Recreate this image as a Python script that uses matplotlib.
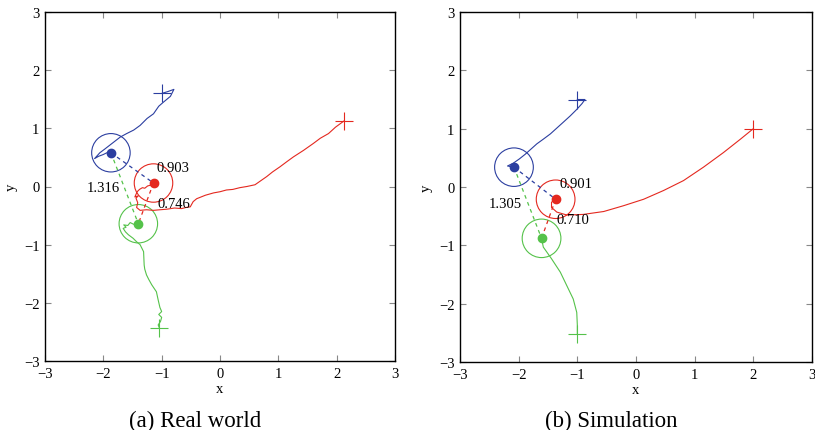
import numpy as np
import matplotlib
matplotlib.use("Agg")
import matplotlib.pyplot as plt
from matplotlib.patches import Circle

plt.rcParams['font.family'] = ['Liberation Serif', 'DejaVu Serif']

BLUE = '#2b3ea0'
RED = '#e4281f'
GREEN = '#55c24a'

# --- (a) real world trajectories (x, y) ---
real_blue_x = [-1.00, -0.90, -0.79, -0.85, -0.97, -1.05, -1.14, -1.25, -1.37, -1.48, -1.60, -1.71, -1.80, -1.89, -1.98, -2.06, -2.15, -2.08, -2.00, -1.94, -1.90, -1.87]
real_blue_y = [1.60, 1.63, 1.67, 1.55, 1.45, 1.38, 1.25, 1.17, 1.05, 0.97, 0.91, 0.85, 0.78, 0.71, 0.64, 0.58, 0.48, 0.52, 0.55, 0.58, 0.56, 0.58]
real_red_x = [2.13, 1.98, 1.86, 1.72, 1.60, 1.43, 1.26, 1.15, 1.03, 0.90, 0.80, 0.70, 0.60, 0.46, 0.34, 0.22, 0.11, 0.00, -0.11, -0.25, -0.40, -0.46, -0.51, -0.58, -0.66, -0.78, -0.91, -1.03, -1.14, -1.26, -1.37, -1.43, -1.41, -1.44, -1.40, -1.46, -1.42, -1.38, -1.33, -1.29, -1.24, -1.20, -1.14]
real_red_y = [1.13, 1.02, 0.91, 0.83, 0.74, 0.62, 0.51, 0.43, 0.34, 0.25, 0.17, 0.10, 0.03, 0.00, -0.02, -0.05, -0.06, -0.09, -0.11, -0.15, -0.21, -0.26, -0.35, -0.36, -0.38, -0.37, -0.39, -0.40, -0.41, -0.40, -0.41, -0.36, -0.28, -0.20, -0.16, -0.18, -0.09, -0.05, -0.02, -0.03, 0.01, 0.02, 0.06]
real_green_x = [-1.04, -1.06, -1.02, -1.00, -1.05, -1.00, -1.03, -1.06, -1.09, -1.13, -1.17, -1.22, -1.26, -1.29, -1.30, -1.31, -1.37, -1.43, -1.49, -1.57, -1.62, -1.66, -1.61, -1.65, -1.58, -1.54, -1.48, -1.40]
real_green_y = [-2.43, -2.38, -2.32, -2.25, -2.20, -2.15, -2.08, -1.95, -1.81, -1.75, -1.69, -1.60, -1.52, -1.42, -1.35, -1.12, -1.00, -0.95, -0.89, -0.83, -0.78, -0.72, -0.70, -0.66, -0.67, -0.62, -0.65, -0.64]
real_dots_x = [-1.87, -1.14, -1.40]
real_dots_y = [0.58, 0.06, -0.64]
real_dist = ['0.903', '1.316', '0.746']
real_dist_xy = [(-0.80, 0.32), (-2.00, -0.02), (-0.79, -0.29)]

# --- (b) simulation trajectories ---
sim_blue_x = [-1.00, -0.87, -0.92, -1.01, -1.12, -1.24, -1.35, -1.46, -1.58, -1.69, -1.79, -1.89, -1.99, -2.09, -2.19, -2.08]
sim_blue_y = [1.50, 1.50, 1.43, 1.33, 1.22, 1.11, 1.01, 0.91, 0.82, 0.74, 0.65, 0.56, 0.48, 0.41, 0.36, 0.34]
sim_red_x = [2.00, 1.78, 1.49, 1.15, 0.81, 0.47, 0.13, -0.21, -0.55, -0.90, -1.18, -1.35, -1.44, -1.44, -1.37]
sim_red_y = [1.00, 0.82, 0.59, 0.34, 0.11, -0.06, -0.21, -0.32, -0.42, -0.47, -0.48, -0.43, -0.35, -0.26, -0.21]
sim_green_x = [-1.00, -1.00, -1.01, -1.07, -1.18, -1.29, -1.44, -1.58, -1.61]
sim_green_y = [-2.52, -2.37, -2.15, -1.92, -1.69, -1.46, -1.23, -1.03, -0.88]
sim_dots_x = [-2.08, -1.37, -1.61]
sim_dots_y = [0.34, -0.21, -0.88]
sim_dist = ['0.901', '1.305', '0.710']
sim_dist_xy = [(-1.03, 0.06), (-2.23, -0.28), (-1.07, -0.55)]

radius = 0.33
ticks = [-3, -2, -1, 0, 1, 2, 3]


def draw_panel(ax, paths, dots_x, dots_y, dist, dist_xy):
    colors = [BLUE, RED, GREEN]
    for (px, py), c in zip(paths, colors):
        ax.plot(px, py, color=c, lw=0.8)
        ax.plot(px[0], py[0], marker='+', ms=13, mew=0.8, color=c, ls='none')
    # dashed connections: blue-red (blue), blue-green (green), red-green (red)
    pairs = [(0, 1, BLUE), (0, 2, GREEN), (1, 2, RED)]
    for i, j, c in pairs:
        ax.plot([dots_x[i], dots_x[j]], [dots_y[i], dots_y[j]], color=c,
                lw=0.9, ls=(0, (3, 3)))
    for k, c in enumerate(colors):
        ax.add_patch(Circle((dots_x[k], dots_y[k]), radius, fill=False,
                            ec=c, lw=0.8))
        ax.plot(dots_x[k], dots_y[k], 'o', ms=6, color=c)
    for t, (tx, ty) in zip(dist, dist_xy):
        ax.text(tx, ty, t, fontsize=10.5, ha='center', va='center')
    ax.set_xlim(-3, 3)
    ax.set_ylim(-3, 3)
    ax.set_xticks(ticks)
    ax.set_yticks(ticks)
    ax.tick_params(direction='in', top=True, right=True, length=4,
                   color='#888888', labelsize=10.5, pad=4)
    for s in ax.spines.values():
        s.set_linewidth(1.0)
    ax.set_xlabel('x', fontsize=10.5, labelpad=2)
    ax.set_ylabel('y', fontsize=10.5, labelpad=4)


fig = plt.figure(figsize=(8.15, 4.31), dpi=100)
ax1 = fig.add_axes([45 / 815, 69 / 431, 350 / 815, 349 / 431])
ax2 = fig.add_axes([460 / 815, 68 / 431, 352 / 815, 350 / 431])

draw_panel(ax1,
           [(real_blue_x, real_blue_y), (real_red_x, real_red_y), (real_green_x, real_green_y)],
           real_dots_x, real_dots_y, real_dist, real_dist_xy)
draw_panel(ax2,
           [(sim_blue_x, sim_blue_y), (sim_red_x, sim_red_y), (sim_green_x, sim_green_y)],
           sim_dots_x, sim_dots_y, sim_dist, sim_dist_xy)

fig.text(195 / 815, 10 / 431, '(a) Real world', fontsize=16.5, ha='center', va='center')
fig.text(611 / 815, 10 / 431, '(b) Simulation', fontsize=16.5, ha='center', va='center')

fig.savefig('out.png', dpi=100)
